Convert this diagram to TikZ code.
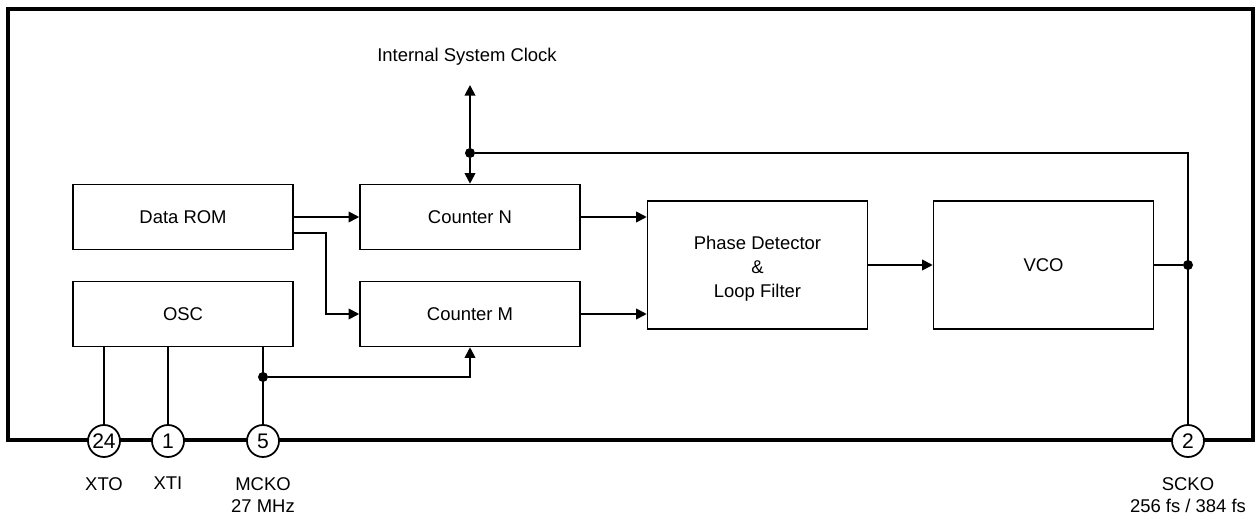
\documentclass[tikz,border=0pt]{standalone}
\usepackage{fontspec}
\setmainfont{Liberation Sans}
\usetikzlibrary{arrows.meta,calc}
\begin{document}
\begin{tikzpicture}[x=0.02cm,y=-0.02cm,
  font=\fontsize{10.5}{12.6}\selectfont,
  blk/.style={draw,line width=0.9pt,inner sep=0pt,minimum width=4.4cm,minimum height=1.3cm,fill=white},
  bigblk/.style={blk,minimum height=2.56cm},
  conn/.style={line width=1pt},
  arr/.style={conn,-{Triangle[length=6pt,width=6pt]}},
  pin/.style={draw,circle,line width=1pt,fill=white,minimum size=0.64cm,inner sep=0pt,font=\fontsize{12}{14}\selectfont},
  dot/.style={circle,fill=black,inner sep=0pt,minimum size=0.2cm},
  lbl/.style={align=center,inner sep=0pt}]
\useasboundingbox (0,0) rectangle (1259,520);
% frame
\draw[line width=2pt] (8,9) rectangle (1253,440);
% blocks
\node[blk] (rom) at (183,217) {Data ROM};
\node[blk] (osc) at (183,314) {OSC};
\node[blk] (cn) at (470,217) {Counter N};
\node[blk] (cm) at (470,314) {Counter M};
\node[bigblk] (pd) at (757.5,265) {\raisebox{-4.9pt}[0pt][0pt]{\renewcommand\arraystretch{1.08}\begin{tabular}{@{}c@{}}Phase Detector\\\&\\Loop Filter\end{tabular}}};
\node[bigblk] (vco) at (1043.5,265) {VCO};
% pins
\node[pin] (p24) at (104,441) {24};
\node[pin] (p1) at (168,441) {1};
\node[pin] (p5) at (263,441) {5};
\node[pin] (p2) at (1188,441) {2};
% pin labels
\node[lbl] (l24) at (104,484) {XTO};
\node[lbl] (l1) at (168,483) {XTI};
\node[lbl] (l5) at (263,495) {MCKO\\27 MHz};
\node[lbl] (l2) at (1188,495) {SCKO\\256 fs / 384 fs};
% top label
\node[lbl] (isc) at (467,57) {Internal System Clock};
% junctions
\coordinate (top) at (470,85);
\node[dot] (j1) at (470,153) {};
\node[dot] (j2) at (1188,265) {};
\node[dot] (j3) at (263,377) {};
% connectors
\draw[arr] (j1) -- (top);
\draw[arr] (j1) -- (cn.north);
\draw[conn] (j1) -| (p2.north);
\draw[conn] (vco.east) -- (j2);
\draw[arr] (rom.east) -- (cn.west);
\draw[arr] ([yshift=-0.32cm]rom.east) -- ++(0.64cm,0) |- (cm.west);
\draw[arr] (cn.east) -- (cn.east -| pd.west);
\draw[arr] (cm.east) -- (cm.east -| pd.west);
\draw[arr] (pd.east) -- (vco.west);
\draw[conn] (osc.south -| p24) -- (p24.north);
\draw[conn] (osc.south -| p1) -- (p1.north);
\draw[conn] (osc.south -| p5) -- (p5.north);
\draw[arr] (j3) -| (cm.south);
\end{tikzpicture}
\end{document}
